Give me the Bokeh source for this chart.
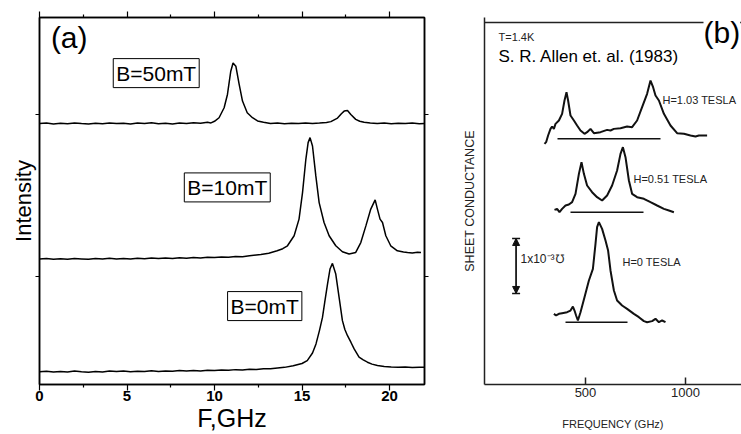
from bokeh.plotting import figure
from bokeh.layouts import row
from bokeh.models import (Label, Range1d, LinearAxis, FixedTicker, Arrow, NormalHead)
from bokeh.embed import file_html
from bokeh.resources import INLINE

# ---------------- Panel (a) data : F (GHz) vs intensity (offset traces) ----------------
F50 = [0, 0.4, 0.8, 1.2, 1.6, 2.0, 2.4, 2.8, 3.2, 3.6, 4.0, 4.4, 4.8, 5.2, 5.6, 6.0, 6.4,
       6.8, 7.2, 7.6, 8.0, 8.4, 8.8, 9.2, 9.6, 9.8, 10.0, 10.26, 10.55, 10.74, 10.93, 11.06,
       11.22, 11.41, 11.6, 11.87, 12.17, 12.46, 12.8, 13.2, 13.6, 14.0, 14.4, 14.8, 15.2,
       15.6, 16.0, 16.4, 16.65, 17.03, 17.25, 17.41, 17.6, 17.79, 18.07, 18.3, 18.55, 18.9,
       19.3, 19.7, 20.1, 20.5, 20.9, 21.3, 21.7, 22.0]
I50 = [1.944, 1.947, 1.942, 1.946, 1.943, 1.948, 1.944, 1.941, 1.946, 1.943, 1.948, 1.944,
       1.946, 1.942, 1.947, 1.944, 1.949, 1.943, 1.946, 1.942, 1.947, 1.945, 1.949, 1.946,
       1.952, 1.948, 1.958, 1.980, 2.042, 2.124, 2.268, 2.319, 2.299, 2.186, 2.083, 2.011,
       1.980, 1.960, 1.952, 1.944, 1.947, 1.943, 1.946, 1.944, 1.948, 1.945, 1.947, 1.950,
       1.956, 1.978, 2.005, 2.021, 2.025, 2.000, 1.970, 1.958, 1.952, 1.947, 1.944, 1.947,
       1.943, 1.946, 1.944, 1.947, 1.943, 1.945]

F10 = [0, 0.4, 0.8, 1.2, 1.6, 2.0, 2.4, 2.8, 3.2, 3.6, 4.0, 4.4, 4.8, 5.2, 5.6, 6.0, 6.4,
       6.8, 7.2, 7.6, 8.0, 8.4, 8.8, 9.2, 9.6, 10.0, 10.4, 10.8, 11.2, 11.6, 12.0, 12.65,
       13.1, 13.58, 13.9, 14.17, 14.55, 14.83, 15.03, 15.22, 15.35, 15.46, 15.6, 15.79,
       15.98, 16.26, 16.55, 16.93, 17.31, 17.69, 18.07, 18.36, 18.65, 18.93, 19.18, 19.31,
       19.46, 19.6, 19.79, 20.07, 20.45, 20.8, 21.03, 21.3, 21.6, 21.8]
I10 = [1.106, 1.109, 1.104, 1.108, 1.105, 1.110, 1.107, 1.104, 1.109, 1.106, 1.111, 1.107,
       1.110, 1.106, 1.111, 1.108, 1.112, 1.109, 1.113, 1.110, 1.114, 1.111, 1.116, 1.113,
       1.117, 1.115, 1.119, 1.117, 1.122, 1.120, 1.126, 1.134, 1.142, 1.157, 1.170, 1.188,
       1.250, 1.353, 1.517, 1.723, 1.826, 1.857, 1.805, 1.620, 1.455, 1.332, 1.250, 1.188,
       1.151, 1.137, 1.147, 1.208, 1.311, 1.415, 1.472, 1.415, 1.353, 1.332, 1.250, 1.188,
       1.157, 1.150, 1.147, 1.144, 1.148, 1.146]

F0 = [0, 0.4, 0.8, 1.2, 1.6, 2.0, 2.4, 2.8, 3.2, 3.6, 4.0, 4.4, 4.8, 5.2, 5.6, 6.0, 6.4,
      6.8, 7.2, 7.6, 8.0, 8.4, 8.8, 9.2, 9.6, 10.0, 10.4, 10.8, 11.2, 11.6, 12.0, 12.4,
      12.8, 13.2, 13.6, 14.0, 14.5, 15.0, 15.3, 15.6, 15.8, 16.0, 16.17, 16.3, 16.46, 16.6,
      16.74, 16.93, 17.12, 17.31, 17.45, 17.6, 17.8, 17.98, 18.26, 18.5, 18.74, 19.0,
      19.31, 19.7, 20.1, 20.5, 20.9, 21.3, 21.7, 22.0]
I0 = [0.409, 0.412, 0.407, 0.411, 0.408, 0.413, 0.409, 0.406, 0.411, 0.408, 0.413, 0.410,
      0.414, 0.409, 0.412, 0.410, 0.415, 0.411, 0.414, 0.412, 0.416, 0.413, 0.417, 0.414,
      0.418, 0.416, 0.420, 0.418, 0.422, 0.420, 0.424, 0.423, 0.427, 0.428, 0.432, 0.436,
      0.446, 0.460, 0.478, 0.525, 0.581, 0.665, 0.745, 0.840, 0.952, 1.044, 1.079, 1.013,
      0.869, 0.725, 0.670, 0.632, 0.590, 0.550, 0.499, 0.482, 0.468, 0.456, 0.447, 0.441,
      0.438, 0.436, 0.438, 0.435, 0.437, 0.436]

a_xticks = [0, 5, 10, 15, 20]
a_xminor = [2.5, 7.5, 12.5, 17.5]
a_yticks = [1, 2]
a_labels = ["B=50mT", "B=10mT", "B=0mT"]
a_label_x = [6.67, 10.73, 12.87]
a_label_y = [2.256, 1.549, 0.815]

# ---------------- Panel (b) data : frequency (GHz) vs sheet conductance (1e-3 mho) ----------------
Fh103 = [295, 303, 313, 325, 333, 342, 350, 367, 383, 395, 405, 413, 425, 442, 458, 475,
         495, 508, 525, 542, 575, 608, 625, 642, 675, 708, 733, 758, 783, 808, 825, 838,
         850, 867, 892, 925, 958, 992, 1025, 1050, 1067, 1108]
Sh103 = [4.375, 4.406, 4.527, 4.648, 4.691, 4.648, 4.739, 4.800, 4.921, 5.164, 5.315,
         5.164, 4.891, 4.800, 4.709, 4.618, 4.558, 4.588, 4.648, 4.569, 4.588, 4.630,
         4.618, 4.648, 4.661, 4.691, 4.679, 4.800, 5.042, 5.285, 5.527, 5.406, 5.255,
         5.164, 4.921, 4.709, 4.569, 4.558, 4.527, 4.509, 4.527, 4.527]
Fh051 = [345, 358, 370, 383, 400, 417, 433, 450, 467, 480, 492, 508, 533, 558, 583, 608,
         633, 658, 675, 687, 700, 717, 733, 758, 792, 825, 858, 892, 917, 942]
Sh051 = [3.176, 3.194, 3.133, 3.194, 3.255, 3.273, 3.315, 3.467, 3.830, 4.042, 3.830,
         3.618, 3.497, 3.406, 3.345, 3.436, 3.618, 3.891, 4.194, 4.315, 4.133, 3.709,
         3.467, 3.406, 3.376, 3.315, 3.255, 3.194, 3.164, 3.133]
Fh0 = [342, 353, 367, 383, 408, 425, 437, 445, 453, 462, 475, 495, 517, 537, 550, 558,
       567, 583, 600, 613, 625, 642, 658, 683, 708, 742, 767, 792, 808, 833, 850, 867,
       883, 900]
Sh0 = [1.285, 1.255, 1.285, 1.297, 1.315, 1.345, 1.418, 1.345, 1.255, 1.164, 1.315,
       1.588, 1.891, 2.103, 2.558, 2.861, 2.952, 2.830, 2.618, 2.436, 2.073, 1.709,
       1.527, 1.436, 1.376, 1.285, 1.224, 1.152, 1.133, 1.152, 1.194, 1.133, 1.164, 1.133]

# zero-level reference lines under each trace: [x0, x1], level
base_x0 = [360, 425, 400]
base_x1 = [875, 790, 710]
base_y = [4.467, 3.133, 1.133]

# scale bar (1e-3 mho)
bar_x = 153
bar_y0 = 1.655
bar_y1 = 2.655
bar_cap = 20

b_xticks = [500, 1000]
b_xmin = -5
b_xmax = 1280
b_ymax = 6.673
b_frame_top = 6.58
b_labels = ["H=1.03 TESLA", "H=0.51 TESLA", "H=0 TESLA"]
b_label_x = [885, 740, 685]
b_label_y = [5.164, 3.745, 2.236]

FONT = "Liberation Sans"

# ================= Panel (a) =================
p1 = figure(width=450, height=434, x_range=Range1d(0, 22), y_range=Range1d(0.33, 2.6),
            output_backend="svg", toolbar_location=None, title=None,
            x_axis_location=None, y_axis_location=None,
            min_border_left=39, min_border_right=26, min_border_top=15, min_border_bottom=50,
            outline_line_color="black", outline_line_width=1.5,
            background_fill_color="white", border_fill_color="white")
p1.grid.visible = False

def a_xaxis(with_labels):
    ax = LinearAxis(ticker=FixedTicker(ticks=a_xticks, minor_ticks=a_xminor))
    ax.major_tick_in = 0
    ax.major_tick_out = 6
    ax.minor_tick_in = 0
    ax.minor_tick_out = 3
    ax.axis_line_width = 1.5
    ax.major_tick_line_width = 1.2
    ax.minor_tick_line_width = 1.2
    ax.major_label_standoff = 0
    if with_labels:
        ax.major_label_text_font = FONT
        ax.major_label_text_font_style = "bold"
        ax.major_label_text_font_size = "15px"
        ax.major_label_text_color = "black"
        ax.axis_label = "F,GHz"
        ax.axis_label_text_font = FONT
        ax.axis_label_text_font_style = "normal"
        ax.axis_label_text_font_size = "25px"
        ax.axis_label_text_color = "black"
        ax.axis_label_standoff = 0
    else:
        ax.major_label_text_font_size = "1px"
        ax.major_label_text_color = None
    return ax

def a_yaxis(with_label):
    ax = LinearAxis(ticker=FixedTicker(ticks=a_yticks, minor_ticks=[]))
    ax.major_tick_in = 0
    ax.major_tick_out = 4
    ax.minor_tick_line_color = None
    ax.axis_line_width = 1.5
    ax.major_tick_line_width = 1.2
    ax.major_label_text_font_size = "1px"
    ax.major_label_text_color = None
    ax.major_label_standoff = 0
    if with_label:
        ax.axis_label = "Intensity"
        ax.axis_label_text_font = FONT
        ax.axis_label_text_font_style = "normal"
        ax.axis_label_text_font_size = "22px"
        ax.axis_label_text_color = "black"
        ax.axis_label_standoff = 0
    return ax

p1.add_layout(a_xaxis(True), "below")
p1.add_layout(a_xaxis(False), "above")
p1.add_layout(a_yaxis(True), "left")
p1.add_layout(a_yaxis(False), "right")

for xs, ys in [(F0, I0), (F10, I10), (F50, I50)]:
    p1.line(xs, ys, line_color="black", line_width=1.5)

for t, x, y in zip(a_labels, a_label_x, a_label_y):
    p1.add_layout(Label(x=x, y=y, text=t, text_align="center", text_baseline="middle",
                        text_font=FONT, text_font_size="21px", text_color="black",
                        background_fill_color="white", border_line_color="black",
                        border_line_width=1, padding=3))

p1.add_layout(Label(x=0.65, y=2.478, text="(a)", text_align="left", text_baseline="middle",
                    text_font=FONT, text_font_size="30px", text_color="black"))

# ================= Panel (b) =================
p2 = figure(width=291, height=434, x_range=Range1d(b_xmin, b_xmax),
            y_range=Range1d(0, b_ymax),
            output_backend="svg", toolbar_location=None, title=None,
            x_axis_location=None, y_axis_location=None,
            min_border_left=34, min_border_right=0, min_border_top=17, min_border_bottom=50,
            outline_line_color=None,
            background_fill_color="white", border_fill_color="white")
p2.grid.visible = False

bx = LinearAxis(ticker=FixedTicker(ticks=b_xticks, minor_ticks=[]))
bx.major_tick_in = 7
bx.major_tick_out = 0
bx.minor_tick_line_color = None
bx.axis_line_width = 1.5
bx.axis_line_color = "#222222"
bx.major_tick_line_color = "#222222"
bx.major_tick_line_width = 1.5
bx.major_label_text_font = FONT
bx.major_label_text_font_size = "13px"
bx.major_label_text_color = "#222222"
bx.major_label_standoff = 3
bx.axis_label = "FREQUENCY (GHz)"
bx.axis_label_text_font = FONT
bx.axis_label_text_font_style = "normal"
bx.axis_label_text_font_size = "11px"
bx.axis_label_text_color = "#222222"
bx.axis_label_standoff = 18
p2.add_layout(bx, "below")

by = LinearAxis(ticker=FixedTicker(ticks=[], minor_ticks=[]))
by.major_tick_line_color = None
by.minor_tick_line_color = None
by.axis_line_width = 1.5
by.axis_line_color = "#222222"
by.major_label_text_font_size = "1px"
by.major_label_text_color = None
by.major_label_standoff = 0
by.axis_label = "SHEET CONDUCTANCE"
by.axis_label_text_font = FONT
by.axis_label_text_font_style = "normal"
by.axis_label_text_font_size = "12.5px"
by.axis_label_text_color = "#222222"
by.axis_label_standoff = 8
p2.add_layout(by, "left")

# top edge of the scanned panel's frame
p2.segment(x0=[b_xmin], y0=[b_frame_top], x1=[b_xmax], y1=[b_frame_top],
           line_color="#222222", line_width=1.5)

for xs, ys in [(Fh103, Sh103), (Fh051, Sh051), (Fh0, Sh0)]:
    p2.line(xs, ys, line_color="#111111", line_width=2)

p2.segment(x0=base_x0, y0=base_y, x1=base_x1, y1=base_y, line_color="#111111", line_width=1.5)

# scale bar
p2.segment(x0=[bar_x], y0=[bar_y0], x1=[bar_x], y1=[bar_y1], line_color="#111111", line_width=1.5)
p2.segment(x0=[bar_x - bar_cap, bar_x - bar_cap], y0=[bar_y0, bar_y1],
           x1=[bar_x + bar_cap, bar_x + bar_cap], y1=[bar_y0, bar_y1],
           line_color="#111111", line_width=1.5)
p2.add_layout(Arrow(start=NormalHead(size=7, fill_color="#111111", line_color="#111111"),
                    end=NormalHead(size=7, fill_color="#111111", line_color="#111111"),
                    x_start=bar_x, y_start=bar_y0, x_end=bar_x, y_end=bar_y1,
                    line_color="#111111", line_width=1))
p2.add_layout(Label(x=175, y=2.29, text="1x10\u207b\u00b3\u2127", text_align="left",
                    text_baseline="middle", text_font=FONT, text_font_size="12px",
                    text_color="#222222"))

for t, x, y in zip(b_labels, b_label_x, b_label_y):
    p2.add_layout(Label(x=x, y=y, text=t, text_align="left", text_baseline="middle",
                        text_font=FONT, text_font_size="11px", text_color="#222222"))

p2.add_layout(Label(x=65, y=6.31, text="T=1.4K", text_align="left", text_baseline="middle",
                    text_font=FONT, text_font_size="11px", text_color="#222222"))
p2.add_layout(Label(x=65, y=5.96, text="S. R. Allen et. al. (1983)", text_align="left",
                    text_baseline="middle", text_font=FONT, text_font_size="17px",
                    text_color="black"))
p2.add_layout(Label(x=1090, y=6.4, text="(b)", text_align="left", text_baseline="middle",
                    text_font=FONT, text_font_size="30px", text_color="black",
                    background_fill_color="white"))

layout = row(p1, p2, spacing=0)
open("out.html", "w").write(file_html(layout, INLINE))
